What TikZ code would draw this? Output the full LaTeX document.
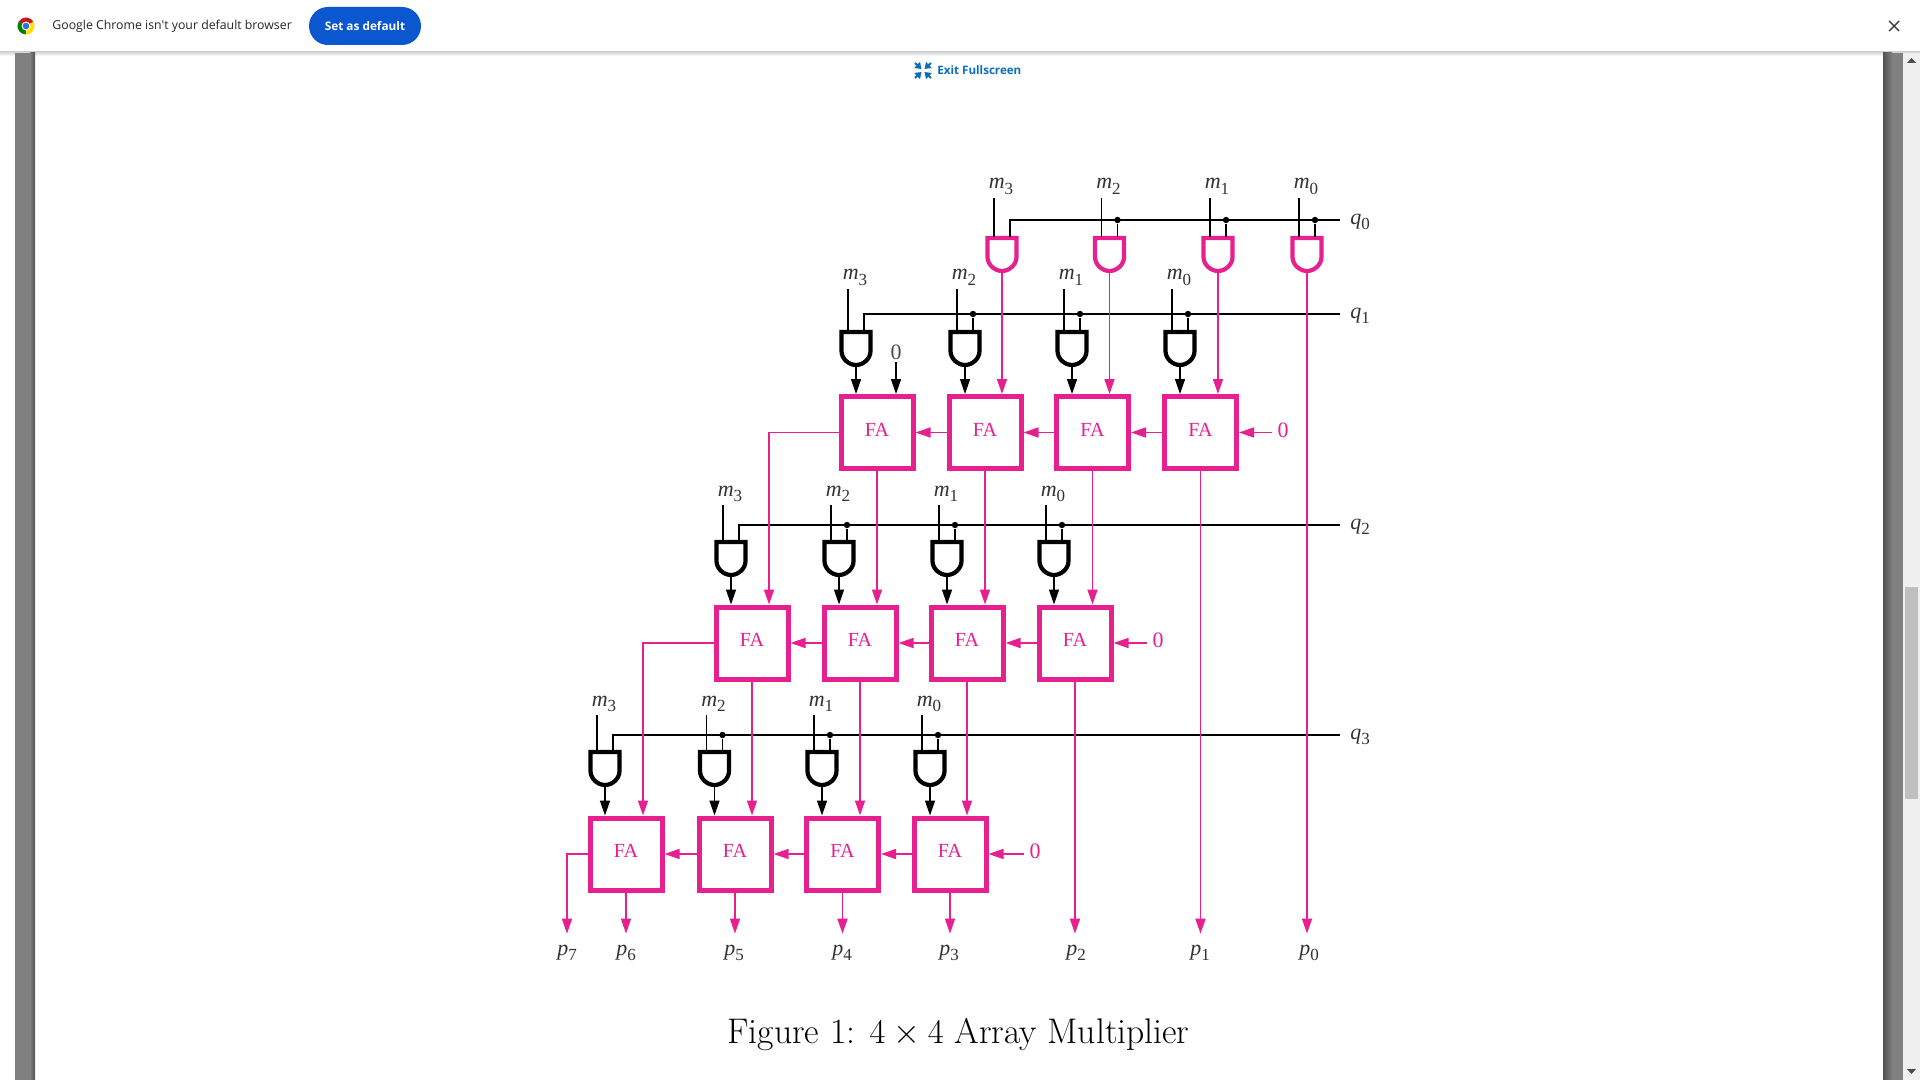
\documentclass[tikz,border=0pt]{standalone}
\usepackage{fontspec}
\newfontfamily\figfont{Liberation Serif}
\newfontfamily\uifont{Open Sans}
\usetikzlibrary{arrows.meta,calc,positioning}
\definecolor{faPink}{HTML}{E6208E}
\definecolor{btnBlue}{HTML}{0B57D0}
\definecolor{linkBlue}{HTML}{0A6EBD}
\newcommand{\sublabel}[2]{{\itshape #1}\raisebox{-.55ex}{\fontsize{8.5}{9}\selectfont #2}}
\tikzset{
  andgate/.pic={
    \draw[line width=2.1pt, pic actions] (-14.5,0) -- (14.5,0) -- (14.5,19)
      .. controls (14.5,27) and (7,33) .. (0,33)
      .. controls (-7,33) and (-14.5,27) .. (-14.5,19) -- cycle;
    \coordinate (-m) at (-8,-1);
    \coordinate (-q) at (8,-1);
    \coordinate (-out) at (0,34);
  },
  fabox/.style={draw=faPink, line width=2.5pt, minimum size=36pt, inner sep=0pt, text depth=3pt,
    text=faPink, font=\figfont\fontsize{10}{11}\selectfont},
  wire/.style={line width=.7pt, black},
  pinkwire/.style={line width=.85pt, faPink, -{Triangle[length=7.5pt,width=5pt]}},
  blackwire/.style={line width=.7pt, black, -{Triangle[length=7.5pt,width=5pt]}},
  pindot/.style={circle, fill=black, minimum size=3.2pt, inner sep=0pt},
  siglabel/.style={font=\figfont\fontsize{11}{12}\selectfont, inner sep=1pt, text=black!80},
  zerolabel/.style={font=\figfont\fontsize{11}{12}\selectfont, inner sep=2.5pt, text=faPink},
  outlabel/.style={font=\figfont\fontsize{11}{12}\selectfont, inner sep=5.5pt, text=black!80},
  uitext/.style={font=\uifont\fontsize{6.15}{8}\selectfont, inner sep=0pt},
}
\begin{document}
\begin{tikzpicture}[x=.5pt, y=-.5pt]
  \useasboundingbox (0,0) rectangle (1920,1080);
  \fill[white] (0,0) rectangle (1920,1080);
  \shade[top color=black!16, bottom color=white] (0,52) rectangle (1920,56);
  \fill[black!6] (1903,53) rectangle (1920,1080);
  \fill[black!25] (1905,587) rectangle (1918,799);
  \fill[black!50] (15,53) rectangle (30,1080);
  \shade[left color=black!50, right color=black!68] (30,53) rectangle (35,1080);
  \shade[left color=black!68, right color=black!50] (1883,53) rectangle (1892,1080);
  \fill[black!50] (1892,53) rectangle (1903,1080);
  \fill[black!70] (1907,63) -- (1911.5,58) -- (1916,63) -- cycle;
  \fill[black!70] (1907,1069) -- (1916,1069) -- (1911.5,1074) -- cycle;
  \begin{scope}[shift={(26,26)}, x=.5pt, y=.5pt]
    \fill[red!75!black!90] (0,0) -- (30:8.5) arc[start angle=30, end angle=150, radius=8.5] -- cycle;
    \fill[green!50!black] (0,0) -- (150:8.5) arc[start angle=150, end angle=270, radius=8.5] -- cycle;
    \fill[yellow!85!orange] (0,0) -- (270:8.5) arc[start angle=270, end angle=390, radius=8.5] -- cycle;
    \fill[white] (0,0) circle[radius=4.4];
    \fill[btnBlue!85] (0,0) circle[radius=3.3];
  \end{scope}
  \node[uitext, anchor=west, text=black!85] (barmsg) at (52,26) {Google Chrome isn't your default browser};
  \node[rounded corners=19*.5pt, fill=btnBlue, minimum width=56pt, minimum height=19pt, inner sep=0pt,
    text=white, font=\uifont\bfseries\fontsize{5.9}{8}\selectfont] (setdefault) at (365,26) {Set as default};
  \draw[line width=.7pt, black!75] (1889,21) -- (1899,31) (1899,21) -- (1889,31);
  \foreach \sx/\sy in {1/1, 1/-1, -1/1, -1/-1} {
    \draw[line width=1pt, linkBlue, -{Triangle[length=3pt,width=4pt]}]
      ($(923,70.5)+(8*\sx,7.5*\sy)$) -- ($(923,70.5)+(1.5*\sx,1.5*\sy)$);
  };
  \node[uitext, anchor=west, text=linkBlue, font=\uifont\bfseries\fontsize{5.8}{8}\selectfont] (exitfull) at (937,70) {Exit Fullscreen};

  \node[fabox] (fa-1-3) at (877,432.5) {FA};
  \node[fabox] (fa-1-2) at (985,432.5) {FA};
  \node[fabox] (fa-1-1) at (1092.5,432.5) {FA};
  \node[fabox] (fa-1-0) at (1200.5,432.5) {FA};
  \node[fabox] (fa-2-3) at (752,643) {FA};
  \node[fabox] (fa-2-2) at (860,643) {FA};
  \node[fabox] (fa-2-1) at (967,643) {FA};
  \node[fabox] (fa-2-0) at (1075,643) {FA};
  \node[fabox] (fa-3-3) at (626,854) {FA};
  \node[fabox] (fa-3-2) at (735,854) {FA};
  \node[fabox] (fa-3-1) at (842.5,854) {FA};
  \node[fabox] (fa-3-0) at (950,854) {FA};

  \foreach \r/\gy/\qy/\mt/\gcol/\gatelist in {
      0/238/220/198/faPink/{3/1002,2/1109.5,1/1218,0/1307},
      1/332/314/289/black/{3/856,2/965,1/1072,0/1180},
      2/542/525/505/black/{3/731,2/839,1/947,0/1054},
      3/752/735/715/black/{3/605,2/714.5,1/822,0/930}} {
    \coordinate (qend-\r) at (1340,\qy);
    \node[siglabel] (q-\r) at (1360,\qy+2) {\sublabel{q}{\r}};
    \foreach \c/\gx in \gatelist {
      \pic[draw=\gcol] (gate-\r-\c) at (\gx,\gy) {andgate};
      \coordinate (mtop-\r-\c) at (\gx-8,\mt);
      \node[siglabel, anchor=base] (m-\r-\c) at (\gx-1,\mt-9) {\sublabel{m}{\c}};
      \draw[wire] (mtop-\r-\c) -- (gate-\r-\c-m);
      \ifnum\c<3
        \node[pindot] (dot-\r-\c) at (gate-\r-\c-q |- qend-\r) {};
        \draw[wire] (dot-\r-\c) -- (gate-\r-\c-q);
      \fi
    };
    \draw[wire] (gate-\r-3-q) |- (qend-\r);
  };

  \foreach \r in {1, 2, 3} {
    \foreach \c in {0, 1, 2, 3} {
      \draw[blackwire] (gate-\r-\c-out) -- (gate-\r-\c-out |- fa-\r-\c.north);
    };
    \foreach \i\j in {0/1, 1/2, 2/3} {
      \draw[pinkwire] (fa-\r-\i.west) -- (fa-\r-\j.east);
    };
  };

  \node[zerolabel] (zero-1) at (1283,430) {0};
  \node[zerolabel] (zero-2) at (1158,640) {0};
  \node[zerolabel] (zero-3) at (1035,851) {0};
  \foreach \r in {1, 2, 3} {
    \draw[pinkwire] (zero-\r.west |- fa-\r-0.east) -- (fa-\r-0.east);
  };
  \node[siglabel, text=black!70] (zero-top) at (896,352) {0};
  \draw[blackwire] (zero-top.south) -- (zero-top.south |- fa-1-3.north);

  \foreach \a/\b in {gate-0-3-out/fa-1-2, gate-0-2-out/fa-1-1, gate-0-1-out/fa-1-0,
      fa-1-3.south/fa-2-2, fa-1-2.south/fa-2-1, fa-1-1.south/fa-2-0,
      fa-2-3.south/fa-3-2, fa-2-2.south/fa-3-1, fa-2-1.south/fa-3-0} {
    \draw[pinkwire] (\a) -- (\a |- \b.north);
  };
  \draw[pinkwire] (fa-1-3.west) -| ($(fa-2-3.north)+(17,0)$);
  \draw[pinkwire] (fa-2-3.west) -| ($(fa-3-3.north)+(17,0)$);

  \node[outlabel] (p-7) at (567,953) {\sublabel{p}{7}};
  \node[outlabel] (p-6) at (626,953) {\sublabel{p}{6}};
  \node[outlabel] (p-5) at (734,953) {\sublabel{p}{5}};
  \node[outlabel] (p-4) at (842,953) {\sublabel{p}{4}};
  \node[outlabel] (p-3) at (949,953) {\sublabel{p}{3}};
  \node[outlabel] (p-2) at (1076,953) {\sublabel{p}{2}};
  \node[outlabel] (p-1) at (1200,953) {\sublabel{p}{1}};
  \node[outlabel] (p-0) at (1309,953) {\sublabel{p}{0}};
  \draw[pinkwire] (fa-3-3.west) -| (p-7.north);
  \foreach \a/\b in {fa-3-3.south/p-6, fa-3-2.south/p-5, fa-3-1.south/p-4, fa-3-0.south/p-3,
      fa-2-0.south/p-2, fa-1-0.south/p-1, gate-0-0-out/p-0} {
    \draw[pinkwire] (\a) -- (\a |- \b.north);
  };

  \node[font=\fontsize{17.8}{20}\selectfont, inner sep=0pt] (caption) at (958.5,1034.5) {Figure 1: $4\times4$ Array Multiplier};
\end{tikzpicture}
\end{document}
